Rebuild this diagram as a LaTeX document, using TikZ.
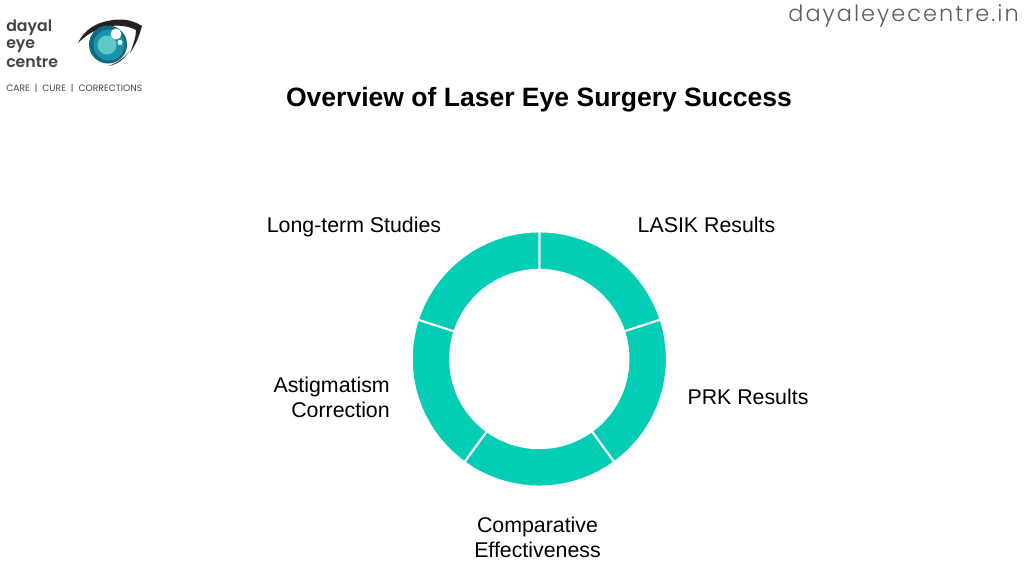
\documentclass[tikz,border=0pt]{standalone}
\usepackage{fontspec}
\setmainfont{Liberation Sans}
\newfontfamily\popfont{Poppins}[UprightFont=* SemiBold]
\newfontfamily\poplight{Poppins}[UprightFont=* Regular]
\newfontfamily\popwide{Poppins}[UprightFont=* Light,LetterSpace=9]
\definecolor{ringc}{HTML}{04CDB5}
\definecolor{logotext}{HTML}{444444}
\definecolor{wm}{HTML}{5C5C5C}
\definecolor{irisdark}{HTML}{0F6A80}
\definecolor{irismid}{HTML}{1A93A8}
\definecolor{irislight}{HTML}{5FC8C4}
\definecolor{browc}{HTML}{222222}
\tikzset{
  seg/.style={fill=ringc,draw=white,line width=1.5pt},
  lbl/.style={font=\fontsize{16}{18.9}\selectfont,align=center,inner sep=0pt,text=black},
  logo/.style={font=\popfont\fontsize{11.8}{13.5}\selectfont,text=logotext,anchor=base west,inner sep=0pt}
}
\begin{document}
\begin{tikzpicture}[x=0.75pt,y=-0.75pt]
\useasboundingbox (0,0) rectangle (1024,576);
\fill[white] (0,0) rectangle (1024,576);
% ring
\foreach \a in {0,72,144,216,288}{
  \pgfmathsetmacro{\b}{\a+72}
  \draw[seg] ({539.3+127.6*sin(\a)},{359-127.6*cos(\a)})
    \foreach \t in {4,8,...,72}{ -- ({539.3+127.6*sin(\a+\t)},{359-127.6*cos(\a+\t)}) }
    -- ({539.3+89.2*sin(\b)},{359-89.2*cos(\b)})
    \foreach \t in {68,64,...,0}{ -- ({539.3+89.2*sin(\a+\t)},{359-89.2*cos(\a+\t)}) }
    -- cycle;
}
\node[font=\bfseries\fontsize{19.9}{24}\selectfont,inner sep=0pt] (title) at (539,99.5) {Overview of Laser Eye Surgery Success};
\node[lbl] (l1) at (706.5,224.5) {LASIK Results};
\node[lbl] (l2) at (748,396.5) {PRK Results};
\node[lbl] (l3) at (537.5,537) {Comparative\\Effectiveness};
\node[lbl,align=right,anchor=east] (l4) at (390,397) {Astigmatism\\Correction};
\node[lbl] (l5) at (354,227) {Long-term Studies};
% logo text
\node[logo] (d1) at (6,31) {dayal};
\node[logo] (d2) at (6,48.5) {eye};
\node[logo] (d3) at (6,67) {centre};
\node[font=\poplight\fontsize{6.9}{8}\selectfont,text=logotext,anchor=west,inner sep=0pt] (tag) at (6,88) {CARE\ \ |\ \ CURE\ \ |\ \ CORRECTIONS};
\node[font=\popwide\fontsize{16.8}{20}\selectfont,text=wm,anchor=east,inner sep=0pt] (site) at (1019,16) {dayaleyecentre.in};
% eye
\fill[browc] (78,43) .. controls (85,28) and (100,20) .. (120,19.5) .. controls (128,19.5) and (136,22) .. (142,26) .. controls (140,33) and (137,43) .. (130,53) .. controls (134,43) and (136,36) .. (136,30) .. controls (125,24) and (100,21) .. (78,43) -- cycle;
\fill[browc] (124,58) .. controls (120,62) and (115,65) .. (108,66) .. controls (115,64) and (122,60) .. (130,51) -- cycle;
\fill[irisdark] (108,44.5) circle[radius=19];
\fill[irismid] (109,45) circle[radius=15.5];
\fill[irislight] (107,45) circle[radius=9.5];
\fill[white] (116,34) circle[radius=5.5];
\fill[white] (120,42.5) circle[radius=2.5];
\end{tikzpicture}
\end{document}
